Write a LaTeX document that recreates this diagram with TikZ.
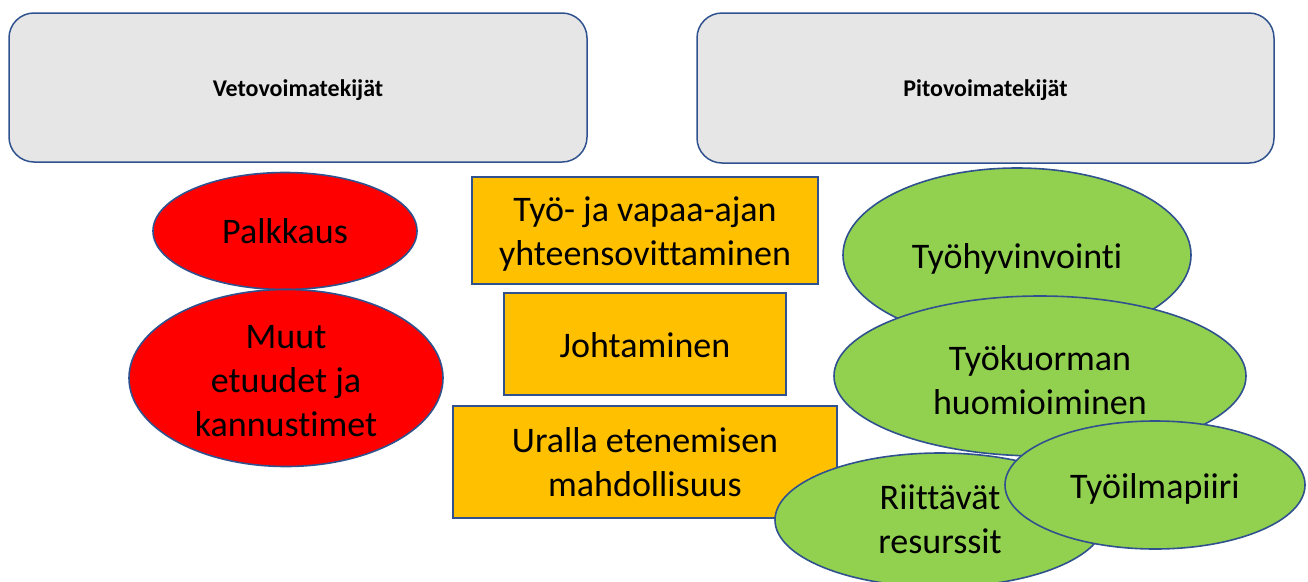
\documentclass[tikz,border=0pt]{standalone}
\usepackage{fontspec}
\setmainfont[Ligatures=NoCommon]{Carlito}
\usetikzlibrary{shapes.geometric}
\definecolor{edgeblue}{HTML}{2F528F}
\definecolor{hdrfill}{HTML}{E7E6E6}
\definecolor{redfill}{HTML}{FF0000}
\definecolor{orangefill}{HTML}{FFC000}
\definecolor{greenfill}{HTML}{92D050}
\begin{document}
\begin{tikzpicture}[x=1pt,y=-1pt,
  hdr/.style={rectangle, draw=edgeblue, line width=1.5pt, fill=hdrfill, rounded corners=25pt, inner sep=0pt},
  hdrtext/.style={inner sep=0pt, font=\bfseries\fontsize{24}{28}\selectfont},
  oval/.style={ellipse, draw=edgeblue, line width=1.6pt, inner sep=0pt},
  bar/.style={rectangle, draw=edgeblue, line width=1.5pt, fill=orangefill, inner sep=0pt},
  big/.style={font=\fontsize{36}{44}\selectfont, align=center, inner sep=0pt}]
\useasboundingbox (0,0) rectangle (1308,581);
\clip (0,0) rectangle (1308,581);
% headers
\node[hdr, minimum width=578pt, minimum height=149pt] (veto) at (298,87.5) {};
\node[hdrtext] (vetoT) at (298,90) {Vetovoimatekijät};
\node[hdr, minimum width=577pt, minimum height=150pt] (pito) at (985.5,88) {};
\node[hdrtext] (pitoT) at (985.5,90.5) {Pitovoimatekijät};
% red ellipses
\node[oval, fill=redfill, minimum width=264pt, minimum height=117pt] (pal) at (285,231) {};
\node[big] (palT) at (pal) {Palkkaus};
\node[oval, fill=redfill, minimum width=314pt, minimum height=177pt] (muu) at (286,378) {};
\node[big] (muuT) at (286,381) {Muut\\etuudet ja\\kannustimet};
% orange boxes
\node[bar, minimum width=346pt, minimum height=107pt] (tyo) at (645,230.5) {};
\node[big] (tyoT) at (645,234) {Työ- ja vapaa-ajan\\yhteensovittaminen};
\node[bar, minimum width=282pt, minimum height=102pt] (joh) at (645,344) {};
\node[big] (johT) at (645,345) {Johtaminen};
\node[bar, minimum width=384pt, minimum height=112pt] (ura) at (645,462) {};
\node[big] (uraT) at (645,462) {Uralla etenemisen\\mahdollisuus};
% green ellipses
\node[oval, fill=greenfill, minimum width=348pt, minimum height=174pt] (hyv) at (1017,255) {};
\node[big] (hyvT) at (1017,259) {Työhyvinvointi};
\node[oval, fill=greenfill, minimum width=412pt, minimum height=160pt] (kuo) at (1040,376) {};
\node[big] (kuoT) at (1040,380) {Työkuorman\\huomioiminen};
\node[oval, fill=greenfill, minimum width=330pt, minimum height=134pt] (rii) at (940,520) {};
\node[big] (riiT) at (940,519) {Riittävät\\resurssit};
\node[oval, fill=greenfill, minimum width=300pt, minimum height=128pt] (ilm) at (1155,485) {};
\node[big] (ilmT) at (1155,489) {Työilmapiiri};
\end{tikzpicture}
\end{document}
